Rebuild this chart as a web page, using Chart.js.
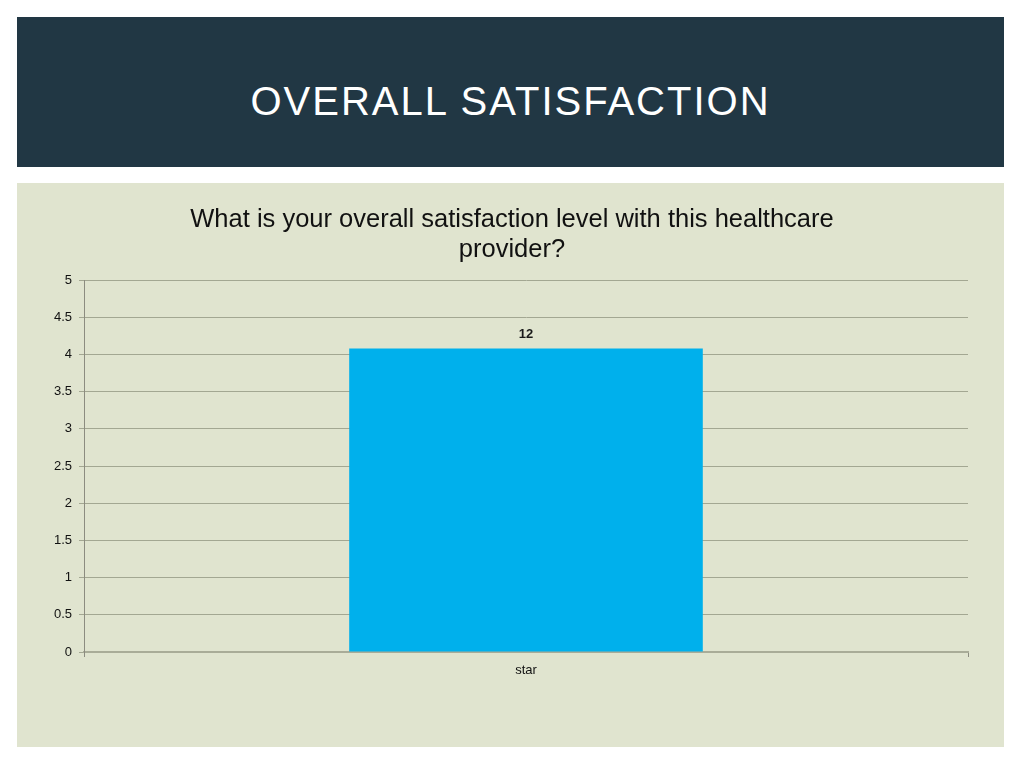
<!DOCTYPE html>
<html>
<head>
<meta charset="utf-8">
<script src="https://cdn.jsdelivr.net/npm/chart.js@4"></script>
<style>
  html, body { margin: 0; padding: 0; background: #ffffff; width: 1024px; height: 768px; overflow: hidden; }
  #header {
    position: absolute; left: 17px; top: 17px; width: 987px; height: 150px;
    background: #213744; color: #ffffff;
    font-family: "Liberation Sans", Arial, sans-serif; font-size: 40px;
    letter-spacing: 2px; text-align: center; line-height: 168px;
  }
  #panel {
    position: absolute; left: 17px; top: 183px; width: 987px; height: 564px;
    background: #e0e4cf;
  }
  #chart { position: absolute; left: 3px; top: 0; }
</style>
</head>
<body>
<div id="header">OVERALL SATISFACTION</div>
<div id="panel"><canvas id="chart" width="984" height="564"></canvas></div>
<script>
// chart data
const categories = ['star'];
const values = [4.08];
const barLabels = ['12'];
const chartTitle = ['What is your overall satisfaction level with this healthcare', 'provider?'];

// draws the number above each bar
const barLabelPlugin = {
  id: 'barLabels',
  afterDatasetsDraw(chart) {
    const ctx = chart.ctx;
    const meta = chart.getDatasetMeta(0);
    ctx.save();
    ctx.font = 'bold 13px "Liberation Sans", Arial, sans-serif';
    ctx.fillStyle = '#1a1a1a';
    ctx.textAlign = 'center';
    ctx.textBaseline = 'middle';
    meta.data.forEach((bar, i) => {
      ctx.fillText(barLabels[i], bar.x, bar.y - 14);
    });
    ctx.restore();
  }
};

new Chart(document.getElementById('chart'), {
  type: 'bar',
  data: {
    labels: categories,
    datasets: [{
      data: values,
      backgroundColor: '#00b0ec',
      borderWidth: 0,
      barPercentage: 0.4,
      categoryPercentage: 1
    }]
  },
  options: {
    responsive: false,
    animation: false,
    layout: { padding: { left: 0, right: 0, top: 0, bottom: 65 } },
    plugins: {
      legend: { display: false },
      tooltip: { enabled: false },
      title: {
        display: true,
        text: chartTitle,
        color: '#111111',
        font: { family: '"Liberation Sans", Arial, sans-serif', size: 25.5, weight: 'normal', lineHeight: 1.18 },
        padding: { top: 22, bottom: 15 }
      }
    },
    scales: {
      x: {
        grid: { offset: true, drawOnChartArea: false, drawTicks: true, tickLength: 5, color: '#8c8c80' },
        border: { color: '#a9ac98', width: 2 },
        ticks: { color: '#111111', font: { family: '"Liberation Sans", Arial, sans-serif', size: 13 }, padding: 6 },
        afterFit(scale) { scale.height = 30; }
      },
      y: {
        min: 0,
        max: 5,
        ticks: {
          stepSize: 0.5,
          color: '#111111',
          font: { family: '"Liberation Sans", Arial, sans-serif', size: 13 },
          padding: 7,
          callback: v => String(v)
        },
        grid: { color: '#a3a792', lineWidth: 1, tickLength: 5 },
        border: { color: '#8c8c80', width: 1 },
        afterFit(scale) { scale.width = 64; }
      },
      // empty right-hand margin, keeps the title centred on the whole panel
      yRight: {
        position: 'right',
        min: 0,
        max: 5,
        grid: { display: false },
        border: { display: false },
        ticks: { display: false },
        afterFit(scale) { scale.width = 36; }
      }
    }
  },
  plugins: [barLabelPlugin]
});
</script>
</body>
</html>
